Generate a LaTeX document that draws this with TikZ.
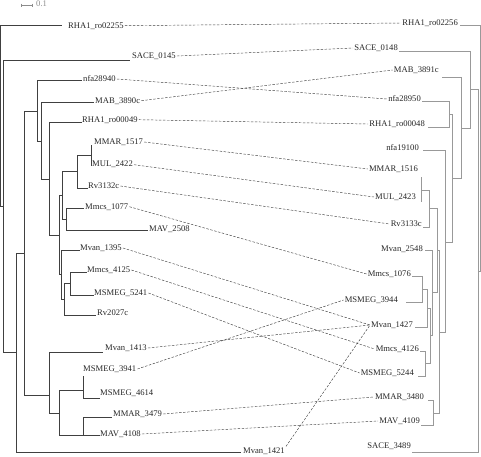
\documentclass[tikz,border=0pt]{standalone}
\usepackage{fontspec}
\setmainfont{Liberation Serif}
\begin{document}
\begin{tikzpicture}[x=1pt,y=-1pt]

  \tikzstyle{branch}=[color=black!75, line width=0.55pt]
  \tikzstyle{rbranch}=[color=black!40, line width=0.55pt]
  \tikzstyle{tipL}=[anchor=west, inner sep=1pt, font=\fontsize{8.6}{9}\selectfont, text=black!85]
  \tikzstyle{tipR}=[anchor=east, inner sep=1pt, font=\fontsize{8.6}{9}\selectfont, text=black!85]
  \tikzstyle{link}=[color=black!75, line width=0.45pt, dash pattern=on 2.5pt off 1.5pt]

  \useasboundingbox (0,0) rectangle (481,456);

  % scale bar
  \draw[color=black!45, line width=0.5pt] (21,3.5) -- (21,6.5) (21,5) -- (32,5) (32,3.5) -- (32,6.5);
  \node[anchor=west, inner sep=0pt, font=\fontsize{8.6}{9}\selectfont, text=black!45] (scale) at (36,4) {0.1};

  % left tree, leaf labels
  \node[tipL] (L1)  at (67,25.7)  {RHA1\_ro02255};
  \node[tipL] (L2)  at (131,56)   {SACE\_0145};
  \node[tipL] (L3)  at (82,79)    {nfa28940};
  \node[tipL] (L4)  at (94,100.7) {MAB\_3890c};
  \node[tipL] (L5)  at (81,119.7) {RHA1\_ro00049};
  \node[tipL] (L6)  at (93,142)   {MMAR\_1517};
  \node[tipL] (L7)  at (91,164.7) {MUL\_2422};
  \node[tipL] (L8)  at (87,186)   {Rv3132c};
  \node[tipL] (L9)  at (84,206.7) {Mmcs\_1077};
  \node[tipL] (L10) at (148,229)  {MAV\_2508};
  \node[tipL] (L11) at (79,248)   {Mvan\_1395};
  \node[tipL] (L12) at (86,270)   {Mmcs\_4125};
  \node[tipL] (L13) at (93,293)   {MSMEG\_5241};
  \node[tipL] (L14) at (96,313)   {Rv2027c};
  \node[tipL] (L15) at (104,348)  {Mvan\_1413};
  \node[tipL] (L16) at (82,369)   {MSMEG\_3941};
  \node[tipL] (L17) at (99,393)   {MSMEG\_4614};
  \node[tipL] (L18) at (112,414)  {MMAR\_3479};
  \node[tipL] (L19) at (99,434)   {MAV\_4108};
  \node[tipL] (L20) at (242,451)  {Mvan\_1421};

  % left tree, inner nodes
  \coordinate (n0) at (0.5,116);
  \coordinate (nS) at (3.5,206);
  \coordinate (nQ) at (16,352);
  \coordinate (nL) at (24,253);
  \coordinate (nA) at (37,111);
  \coordinate (nB) at (41,141);
  \coordinate (nC) at (49,179);
  \coordinate (nD) at (59,235);
  \coordinate (nE) at (62,195);
  \coordinate (nF) at (77,171);
  \coordinate (nI) at (91,155);
  \coordinate (nG) at (66,219);
  \coordinate (nH) at (61,274);
  \coordinate (nJ) at (64,299);
  \coordinate (nK) at (70,283);
  \coordinate (nM) at (49,395);
  \coordinate (nP) at (59,413);
  \coordinate (nN) at (83,390);
  \coordinate (nO) at (83,435);

  \draw[branch] (n0) |- (62,25.7)  (n0) |- (nS);
  \draw[branch] (nS) |- (130,60)   (nS) |- (nQ);
  \draw[branch] (nQ) |- (nL)       (nQ) |- (241,452);
  \draw[branch] (nL) |- (nA)       (nL) |- (nM);
  \draw[branch] (nA) |- (82,80.7)  (nA) |- (nB);
  \draw[branch] (nB) |- (94,102)   (nB) |- (nC);
  \draw[branch] (nC) |- (82,122.7) (nC) |- (nD);
  \draw[branch] (nD) |- (nE)       (nD) |- (nH);
  \draw[branch] (nE) |- (nF)       (nE) |- (nG);
  \draw[branch] (nF) |- (nI)       (nF) |- (88,188);
  \draw[branch] (91,145) -- (91,166);
  \draw[branch] (nG) |- (84,208)   (nG) |- (148,230);
  \draw[branch] (nH) |- (80,250)   (nH) |- (nJ);
  \draw[branch] (nJ) |- (nK)       (nJ) |- (96,315);
  \draw[branch] (nK) |- (87,272)   (nK) |- (94,295);
  \draw[branch] (nM) |- (103,352)  (nM) |- (nP);
  \draw[branch] (nP) |- (nN)       (nP) |- (nO);
  \draw[branch] (83,376) -- (83,398) -- (100,398);
  \draw[branch] (83,417) -- (112,417) (83,417) -- (83,435) -- (100,435);

  % right tree, leaf labels
  \node[tipR] (R1)  at (459,23)  {RHA1\_ro02256};
  \node[tipR] (R2)  at (399,48)  {SACE\_0148};
  \node[tipR] (R3)  at (440,70)  {MAB\_3891c};
  \node[tipR] (R4)  at (422,99)  {nfa28950};
  \node[tipR] (R5)  at (426,124) {RHA1\_ro00048};
  \node[tipR] (R6)  at (420,148) {nfa19100};
  \node[tipR] (R7)  at (419,169) {MMAR\_1516};
  \node[tipR] (R8)  at (417,197) {MUL\_2423};
  \node[tipR] (R9)  at (423,224) {Rv3133c};
  \node[tipR] (R10) at (424,249) {Mvan\_2548};
  \node[tipR] (R11) at (412,274) {Mmcs\_1076};
  \node[tipR] (R12) at (399,300) {MSMEG\_3944};
  \node[tipR] (R13) at (414,325) {Mvan\_1427};
  \node[tipR] (R14) at (420,349) {Mmcs\_4126};
  \node[tipR] (R15) at (415,373) {MSMEG\_5244};
  \node[tipR] (R16) at (425,397) {MMAR\_3480};
  \node[tipR] (R17) at (421,421) {MAV\_4109};
  \node[tipR] (R18) at (412,446) {SACE\_3489};

  % right tree, inner nodes
  \coordinate (m0) at (480,148);
  \coordinate (mZ) at (478,271);
  \coordinate (mA) at (470,89.5);
  \coordinate (mB) at (461,128);
  \coordinate (mC) at (452,178);
  \coordinate (mX) at (449,114);
  \coordinate (mD) at (445,242);
  \coordinate (mE) at (439,332);
  \coordinate (mF) at (437,250);
  \coordinate (mG) at (429,208);
  \coordinate (mH) at (421,190);
  \coordinate (mI) at (432,292);
  \coordinate (mJ) at (430,335);
  \coordinate (mK) at (427,308);
  \coordinate (mN) at (422,289);
  \coordinate (mP) at (425,363);
  \coordinate (mQ) at (433,413);

  \draw[rbranch] (m0) |- (460,25)  (m0) |- (mZ);
  \draw[rbranch] (mZ) |- (mA)      (mZ) |- (412,452);
  \draw[rbranch] (mA) |- (399,51)  (mA) |- (mB);
  \draw[rbranch] (mB) |- (442,77)  (mB) |- (mC);
  \draw[rbranch] (mC) |- (mX)      (mC) |- (mD);
  \draw[rbranch] (mX) |- (422,101) (mX) |- (428,127);
  \draw[rbranch] (mD) |- (423,150) (mD) |- (mE);
  \draw[rbranch] (mE) |- (mF)      (mE) |- (mQ);
  \draw[rbranch] (mF) |- (mG)      (mF) |- (mI);
  \draw[rbranch] (mG) |- (mH)      (mG) |- (423,227);
  \draw[rbranch] (421,177) -- (421,202);
  \draw[rbranch] (mI) |- (425,250) (mI) |- (mJ);
  \draw[rbranch] (mJ) |- (mK)      (mJ) |- (mP);
  \draw[rbranch] (mK) |- (mN)      (mK) |- (415,327);
  \draw[rbranch] (mN) |- (412,276) (mN) |- (406,302);
  \draw[rbranch] (mP) |- (420,351) (mP) |- (418,376);
  \draw[rbranch] (mQ) |- (428,400) (mQ) |- (421,425);

  % links between the two trees
  \draw[link] (L1.east) -- (R1.west);
  \draw[link] (L2.east) -- (R2.west);
  \draw[link] (L3.east) -- (R4.west);
  \draw[link] (L4.east) -- (R3.west);
  \draw[link] (L5.east) -- (R5.west);
  \draw[link] (L6.east) -- (R7.west);
  \draw[link] (L7.east) -- (R8.west);
  \draw[link] (L8.east) -- (R9.west);
  \draw[link] (L9.east) -- (R11.west);
  \draw[link] (L11.east) -- (R13.west);
  \draw[link] (L12.east) -- (R14.west);
  \draw[link] (L13.east) -- (R15.west);
  \draw[link] (L15.east) -- (R13.west);
  \draw[link] (L16.east) -- (R12.west);
  \draw[link] (L18.east) -- (R16.west);
  \draw[link] (L19.east) -- (R17.west);
  \draw[link] (L20.north east) -- (R13.west);
\end{tikzpicture}
\end{document}
